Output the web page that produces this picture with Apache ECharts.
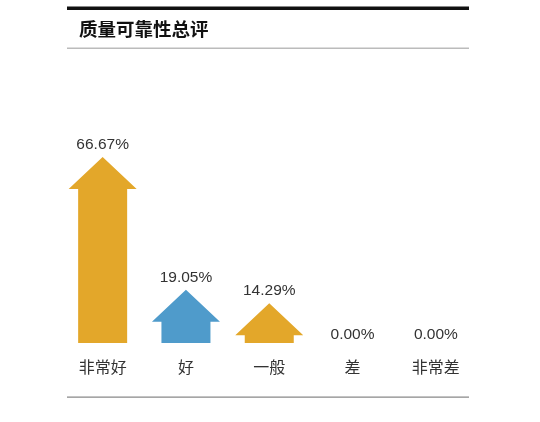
<!DOCTYPE html>
<html>
<head>
<meta charset="utf-8">
<style>
  html, body { margin: 0; padding: 0; background: #fff; }
  #chart { width: 540px; height: 422px; }
</style>
<script src="https://cdn.jsdelivr.net/npm/echarts@6/dist/echarts.min.js"></script>
</head>
<body>
<div id="chart"></div>
<script>
// 数据
var categories = ['非常好', '好', '一般', '差', '非常差'];
var percents = [66.67, 19.05, 14.29, 0, 0];
var colors = ['#E3A72A', '#4F9BCB', '#E3A72A', '#E3A72A', '#E3A72A'];

var myChart = echarts.init(document.getElementById('chart'));

// 画箭头：箭头头部大小固定，柄长随数值变化
function renderArrow(params, api) {
    var v = api.value(1);
    var top = api.coord([api.value(0), v]);
    var base = api.coord([api.value(0), 0]);
    var cx = top[0];
    var label = {
        type: 'text',
        style: {
            text: v.toFixed(2) + '%',
            x: cx,
            y: v ? top[1] - 12 : base[1] - 8,
            textAlign: 'center',
            textVerticalAlign: 'middle',
            font: '15.5px "Liberation Sans", Arial, sans-serif',
            fill: '#333'
        }
    };
    if (!v) return { type: 'group', children: [label] };
    var headH = 32, headW = 34, shaftW = 24.5;
    var hb = top[1] + headH;
    return {
        type: 'group',
        children: [{
            type: 'polygon',
            shape: {
                points: [
                    [cx, top[1]], [cx + headW, hb], [cx + shaftW, hb],
                    [cx + shaftW, base[1]], [cx - shaftW, base[1]],
                    [cx - shaftW, hb], [cx - headW, hb]
                ]
            },
            style: { fill: colors[params.dataIndex] }
        }, label]
    };
}

var option = {
    title: {
        text: '质量可靠性总评',
        left: 74,
        top: 15,
        textStyle: {
            fontFamily: '"Noto Sans CJK SC", sans-serif',
            fontSize: 18.5,
            fontWeight: 'bold',
            color: '#111'
        }
    },
    graphic: [
        { type: 'rect', shape: { x: 67, y: 6.5, width: 402, height: 3.5 }, style: { fill: '#111' } },
        { type: 'rect', shape: { x: 67, y: 47.5, width: 402, height: 1.5 }, style: { fill: '#bbb' } },
        { type: 'rect', shape: { x: 67, y: 396.5, width: 402, height: 1.2 }, style: { fill: '#888' } }
    ],
    grid: { left: 61, right: 62.5, top: 64, bottom: 79 },
    xAxis: {
        type: 'category',
        data: categories,
        axisLine: { show: false },
        axisTick: { show: false },
        axisLabel: {
            margin: 16,
            fontSize: 16,
            color: '#333',
            fontFamily: '"Noto Sans CJK SC", sans-serif'
        }
    },
    yAxis: {
        type: 'value',
        min: 0,
        max: 100,
        show: false
    },
    series: [{
        type: 'custom',
        renderItem: renderArrow,
        data: percents.map(function (p, i) { return [i, p]; })
    }]
};

myChart.setOption(option);
</script>
</body>
</html>
